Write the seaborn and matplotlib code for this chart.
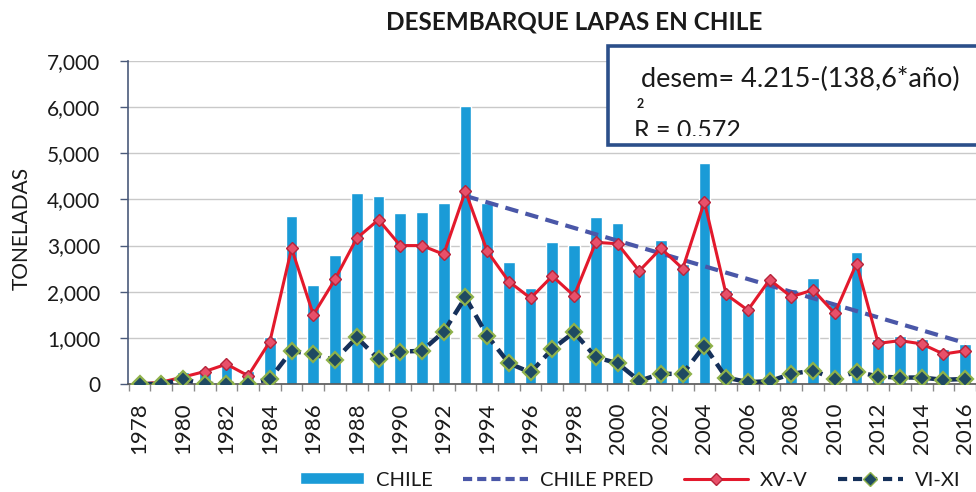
import numpy as np
import pandas as pd
import matplotlib
matplotlib.use("Agg")
import matplotlib.pyplot as plt
import seaborn as sns
from matplotlib.patches import Rectangle
from matplotlib.lines import Line2D
from matplotlib.ticker import FuncFormatter, FixedLocator

# Landings by year (tonnes)
years = list(range(1978, 2017))
chile = [20, 60, 260, 330, 480, 280, 1020, 3650, 2150, 2800, 4130, 4080, 3700,
         3720, 3920, 6030, 3930, 2640, 2080, 3070, 3020, 3610, 3480, 2450, 3120,
         2600, 4780, 2030, 1660, 2290, 2060, 2300, 1730, 2860, 980, 1040, 980,
         760, 860]
xv_v = [0, 40, 150, 270, 430, 180, 920, 2940, 1500, 2270, 3160, 3560, 3000,
        3000, 2810, 4180, 2880, 2220, 1860, 2340, 1910, 3070, 3040, 2450, 2940,
        2500, 3950, 1940, 1600, 2260, 1890, 2040, 1530, 2610, 880, 940, 870,
        650, 720]
vi_xi = [0, 0, 100, 0, 0, 0, 110, 720, 640, 520, 1010, 540, 700,
         720, 1130, 1880, 1050, 450, 250, 760, 1120, 580, 450, 70, 220,
         220, 830, 140, 40, 60, 220, 290, 110, 270, 160, 140, 140,
         90, 110]
chile_pred = [np.nan] * 15 + [4076, 3938, 3799, 3661, 3522, 3383, 3245, 3106,
                              2968, 2829, 2690, 2552, 2413, 2275, 2136, 1997,
                              1859, 1720, 1582, 1443, 1304, 1166, 1027, 889]

df = pd.DataFrame({
    "year": years,
    "pos": np.arange(len(years)),
    "CHILE": chile,
    "CHILE PRED": chile_pred,
    "XV-V": xv_v,
    "VI-XI": vi_xi,
})

BAR = "#1a9bd7"
RED = "#e3192c"
PRED = "#4a57a8"
NAVY = "#15305a"
GREEN = "#8fb24a"
TXT = "#1a1a1a"

sns.set_style("white")
plt.rcParams["font.family"] = ["Lato", "DejaVu Sans"]

fig = plt.figure(figsize=(9.76, 4.92), dpi=100)
ax = fig.add_axes([128 / 976, 108 / 492, 848 / 976, 323 / 492])

# Bars
sns.barplot(data=df, x="pos", y="CHILE", color=BAR, width=0.54,
            saturation=1, ax=ax, zorder=2, native_scale=True)

# Trend line
sns.lineplot(data=df, x="pos", y="CHILE PRED", color=PRED, lw=3,
             ax=ax, zorder=3).lines[-1].set_dashes([3.2, 1.8])

# XV-V
sns.lineplot(data=df, x="pos", y="XV-V", color=RED, lw=2.2, marker="D",
             markersize=6, markerfacecolor="#e8506a", markeredgecolor="#b8243a",
             markeredgewidth=1, ax=ax, zorder=4)

# VI-XI
ln = sns.lineplot(data=df, x="pos", y="VI-XI", color=NAVY, lw=3.2, marker="D",
                  markersize=8, markerfacecolor="#1f4a62", markeredgecolor=GREEN,
                  markeredgewidth=1.6, ax=ax, zorder=5).lines[-1]
ln.set_dashes([3.0, 1.6])

ax.set_ylim(0, 7000)
ax.set_xlim(-0.53, 38.17)
ax.set_xlabel("")
ax.set_ylabel("")

# Y axis
ax.yaxis.set_major_locator(FixedLocator(np.arange(0, 7001, 1000)))
ax.yaxis.set_major_formatter(FuncFormatter(lambda v, p: f"{int(v):,}"))
ax.tick_params(axis="y", length=6, width=1, color="#4a5a7a", pad=14,
               labelsize=15, labelcolor=TXT, left=True)
ax.grid(axis="y", color="#c9c9c9", lw=1, zorder=0)
ax.set_axisbelow(True)

# X axis: labels every two years, tick marks between categories
ax.set_xticks(df["pos"][::2])
ax.set_xticklabels(df["year"][::2], rotation=90)
ax.set_xticks(np.arange(-0.5, 39, 1), minor=True)
ax.tick_params(axis="x", which="major", length=0, pad=13, labelsize=16,
               labelcolor=TXT)
ax.tick_params(axis="x", which="minor", length=5, width=1, color="#8a8a8a",
               bottom=True)

for side in ["top", "right"]:
    ax.spines[side].set_visible(False)
ax.spines["left"].set_color("#4a5a7a")
ax.spines["left"].set_linewidth(1.2)
ax.spines["bottom"].set_color("#555555")
ax.spines["bottom"].set_linewidth(1.2)

# Titles
fig.text(574 / 976, 1 - 22 / 492, "DESEMBARQUE LAPAS EN CHILE", ha="center",
         va="center", fontsize=17.5, fontweight="bold", color=TXT)
fig.text(22 / 976, 1 - 228 / 492, "TONELADAS", rotation=90, ha="center",
         va="center", fontsize=15, color=TXT)

# Equation box (runs past the right edge like the original)
box = Rectangle((608 / 976, 1 - 145 / 492), 0.5, 99 / 492,
                transform=fig.transFigure, facecolor="white",
                edgecolor="#2b4f8a", lw=2.6, zorder=10)
fig.add_artist(box)
t1 = fig.text(641 / 976, 1 - 87 / 492, "desem= 4.215-(138,6*año)",
              fontsize=19.5, color=TXT, va="baseline", zorder=11)
t2 = fig.text(634 / 976, 1 - 138 / 492, "R", fontsize=18, color=TXT,
              va="baseline", zorder=11)
t3 = fig.text(637 / 976, 1 - 108 / 492, "2", fontsize=9, fontweight="bold",
              color=TXT, va="baseline", zorder=11)
t4 = fig.text(656 / 976, 1 - 138 / 492, "= 0.572", fontsize=18, color=TXT,
              va="baseline", zorder=11)
# the original box cuts off the bottom of the R² line
clip = Rectangle((608 / 976, 1 - 136 / 492), 0.5, 90 / 492,
                 transform=fig.transFigure)
for t in (t1, t2, t3, t4):
    t.set_clip_path(clip)

# Legend
handles = [
    Rectangle((0, 0), 1, 1, facecolor=BAR),
    Line2D([], [], color=PRED, lw=3, dashes=[2.2, 1.2]),
    Line2D([], [], color=RED, lw=2.2, marker="D", markersize=6,
           markerfacecolor="#e8506a", markeredgecolor="#b8243a"),
    Line2D([], [], color=NAVY, lw=3, dashes=[2.2, 1.4], marker="D",
           markersize=7, markerfacecolor="#1f4a62", markeredgecolor=GREEN),
]
labels = ["CHILE", "CHILE PRED", "XV-V", "VI-XI"]
fig.legend(handles, labels, loc="center", bbox_to_anchor=(630 / 976, 12 / 492),
           ncol=4, frameon=False, fontsize=14.5, handlelength=3.2,
           handleheight=0.55, handletextpad=0.6, columnspacing=1.5,
           labelcolor=TXT, borderaxespad=0, borderpad=0)

fig.savefig("out.png", dpi=100)
